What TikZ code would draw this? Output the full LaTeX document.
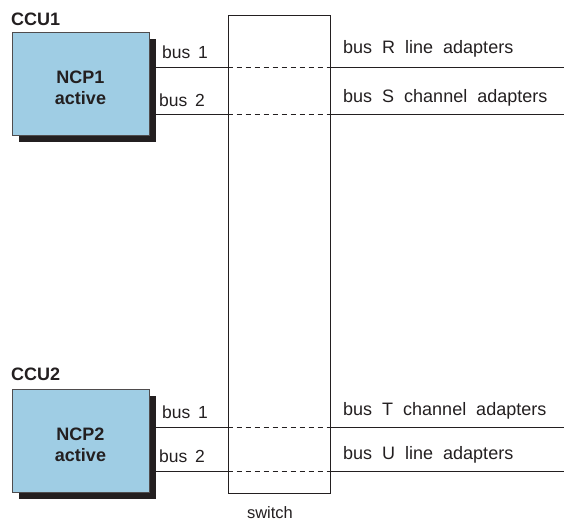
\documentclass[tikz,border=0pt]{standalone}
\usepackage{fontspec}
\setmainfont{Liberation Sans}
\usepackage{tikz}
\usetikzlibrary{shadows}
\definecolor{ncpblue}{HTML}{9FCDE4}
\definecolor{linegray}{HTML}{231F20}

\begin{document}
\begin{tikzpicture}
		[x=1pt,y=-1pt,
		ncp/.style={rectangle,draw=linegray!80,fill=ncpblue,thin,
inner sep=0pt,minimum width=137pt,minimum height=103pt,
drop shadow={shadow xshift=7pt,shadow yshift=-7pt,fill=linegray,opacity=1}},
		ncptext/.style={align=center,inner sep=0pt,font=\fontsize{18}{21}\selectfont\bfseries,text=linegray},
		switchbox/.style={rectangle,draw=linegray,semithick,
inner sep=0pt,minimum width=102pt,minimum height=478pt},
		ccustyle/.style={anchor=west,inner sep=0pt,font=\fontsize{18}{20}\selectfont\bfseries,text=linegray},
		textstyle/.style={anchor=west,inner sep=0pt,font=\fontsize{17.5}{20}\selectfont,text=linegray},
		adaptstyle/.style={textstyle,font=\fontsize{18}{20}\selectfont},
		busline/.style={-,draw=linegray,semithick},
		busdash/.style={-,draw=linegray,semithick,dash pattern=on 5pt off 4pt}]
		\useasboundingbox (0,0) rectangle (564,521);
		% switch in the middle
		\node at (279,254) (sw) [switchbox] {};
		\node at (270,513) (swlabel) [text=linegray] {\fontsize{16.5}{18}\selectfont switch};
		% the two controllers
		\node at (11,19) (ccu1) [ccustyle] {CCU1};
		\node at (80.5,83.5) (ncp1) [ncp] {};
		\node at ([yshift=-4pt]ncp1.center) (ncp1text) [ncptext] {NCP1\\active};
		\node at (11,374) (ccu2) [ccustyle] {CCU2};
		\node at (80.5,440.5) (ncp2) [ncp] {};
		\node at ([yshift=-4pt]ncp2.center) (ncp2text) [ncptext] {NCP2\\active};
		% free ends of the buses
		\coordinate (r) at (564,67);
		\coordinate (s) at (564,114);
		\coordinate (t) at (564,427);
		\coordinate (u) at (564,471);
		% buses
		\foreach \bus/\ncp in {r/ncp1,s/ncp1,t/ncp2,u/ncp2}
		{
			\draw [busline] ([xshift=3pt]\ncp.east |- \bus) -- (sw.west |- \bus);
			\draw [busdash] (sw.west |- \bus) -- (sw.east |- \bus);
			\draw [busline] (sw.east |- \bus) -- (\bus);
		}
		% labels
		\node at (162,52) (b11) [textstyle] {bus\, 1};
		\node at (159,100) (b12) [textstyle] {bus\, 2};
		\node at (162,412) (b21) [textstyle] {bus\, 1};
		\node at (159,456) (b22) [textstyle] {bus\, 2};
		\node at (343,49) (lr) [adaptstyle] {bus\; R\; line\; adapters};
		\node at (343,98) (ls) [adaptstyle] {bus\; S\; channel\; adapters};
		\node at (343,411) (lt) [adaptstyle] {bus\; T\; channel\; adapters};
		\node at (343,455) (lu) [adaptstyle] {bus\; U\; line\; adapters};
	\end{tikzpicture}
\end{document}
